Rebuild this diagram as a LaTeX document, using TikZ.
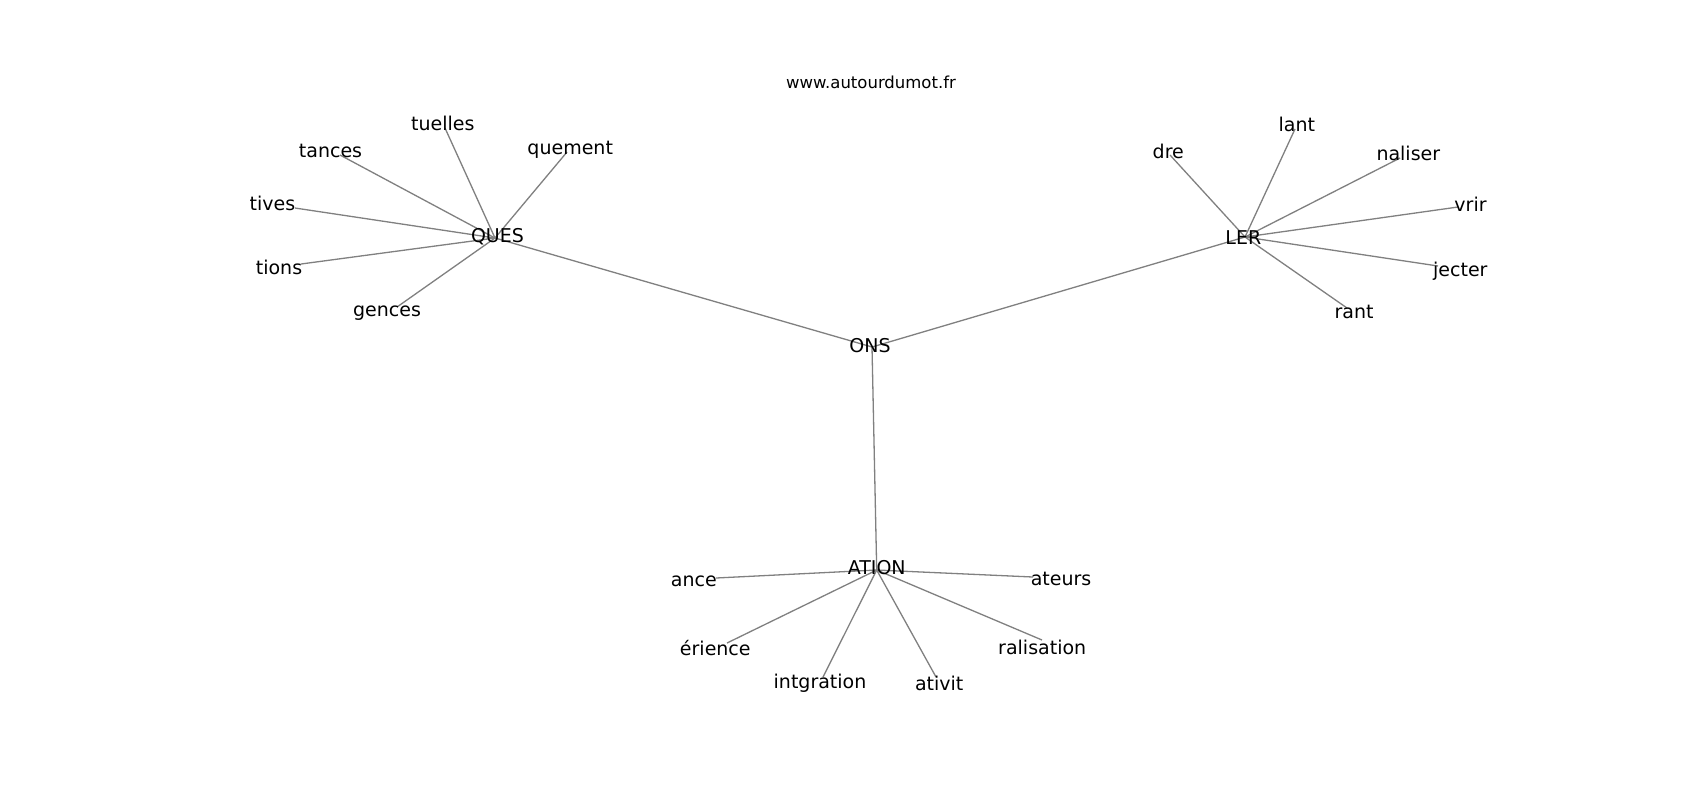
\documentclass[tikz,border=0pt]{standalone}
\usepackage{fontspec}
\setmainfont{DejaVu Sans}
\begin{document}
\begin{tikzpicture}[x=0.5pt,y=-0.5pt,
  lbl/.style={anchor=base,inner sep=0pt,outer sep=0pt,font=\fontsize{9.5}{11}\selectfont,text=black},
  ttl/.style={anchor=base,inner sep=0pt,outer sep=0pt,font=\fontsize{8.25}{10}\selectfont,text=black},
  edge/.style={draw=black!50,line width=0.65pt}]
\useasboundingbox[fill=white] (0,0) rectangle (1700,800);
% title
\node[ttl] (title) at (871,88.3) {www.autourdumot.fr};
% edge end points
\coordinate (pONS) at (872,347);
\coordinate (pQUES) at (495,238);
\coordinate (pLER) at (1245,237);
\coordinate (pATION) at (876.7,570);
\coordinate (ptuelles) at (445,128);
\coordinate (ptances) at (340,155);
\coordinate (pquement) at (567,152);
\coordinate (ptives) at (295,208);
\coordinate (ptions) at (301,264);
\coordinate (pgences) at (397,307);
\coordinate (pdre) at (1170,155);
\coordinate (plant) at (1295,129);
\coordinate (pnaliser) at (1400,158);
\coordinate (pvrir) at (1458,207);
\coordinate (pjecter) at (1438,266);
\coordinate (prant) at (1347,308);
\coordinate (pance) at (716,578);
\coordinate (pateurs) at (1033,577);
\coordinate (perience) at (727,643);
\coordinate (pintgration) at (823,677);
\coordinate (pativit) at (936,677);
\coordinate (pralisation) at (1042,640);
% edges
\draw[edge] (pONS) -- (pQUES);
\draw[edge] (pONS) -- (pLER);
\draw[edge] (pONS) -- (pATION);
\foreach \n in {tuelles,tances,quement,tives,tions,gences}{\draw[edge] (pQUES) -- (p\n);}
\foreach \n in {dre,lant,naliser,vrir,jecter,rant}{\draw[edge] (pLER) -- (p\n);}
\foreach \n in {ance,ateurs,erience,intgration,ativit,ralisation}{\draw[edge] (pATION) -- (p\n);}
% labels
\node[lbl] (ONS) at (870,352.7) {ONS};
\node[lbl] (QUES) at (497.5,242.7) {QUES};
\node[lbl] (LER) at (1243.3,244) {LER};
\node[lbl] (ATION) at (876.7,574.3) {ATION};
\node[lbl] (tuelles) at (442.8,130.7) {tuelles};
\node[lbl] (tances) at (330.5,157.3) {tances};
\node[lbl] (quement) at (570.2,154) {quement};
\node[lbl] (tives) at (272.5,210) {tives};
\node[lbl] (tions) at (279,274.3) {tions};
\node[lbl] (gences) at (387,316.7) {gences};
\node[lbl] (dre) at (1168.3,158.3) {dre};
\node[lbl] (lant) at (1296.8,131.7) {lant};
\node[lbl] (naliser) at (1408.3,160) {naliser};
\node[lbl] (vrir) at (1470.5,211.7) {vrir};
\node[lbl] (jecter) at (1460.3,276) {jecter};
\node[lbl] (rant) at (1354,318.3) {rant};
\node[lbl] (ance) at (693.8,586.7) {ance};
\node[lbl] (ateurs) at (1061,585) {ateurs};
\node[lbl] (erience) at (715.3,655) {érience};
\node[lbl] (intgration) at (820,688.3) {intgration};
\node[lbl] (ativit) at (939.2,690) {ativit};
\node[lbl] (ralisation) at (1042.2,654) {ralisation};
\end{tikzpicture}
\end{document}
